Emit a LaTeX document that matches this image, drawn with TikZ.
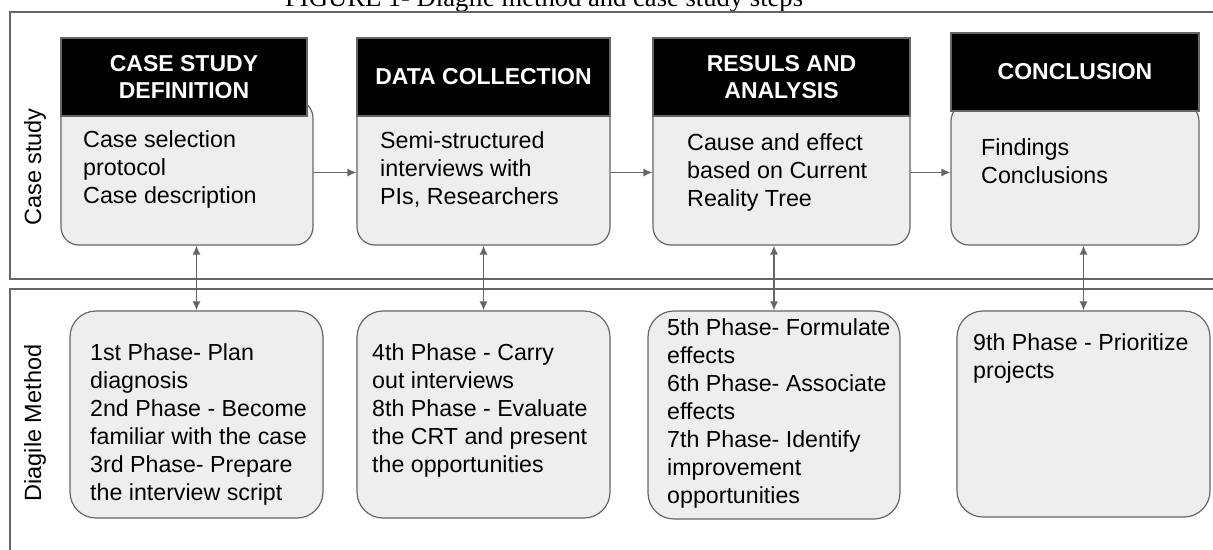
\documentclass[tikz,border=0pt]{standalone}
\usepackage{fontspec}
\setmainfont{Liberation Sans}
\newfontfamily\captionfont{Liberation Serif}
\usetikzlibrary{calc,arrows.meta}
\definecolor{framegray}{HTML}{666666}
\definecolor{boxfill}{HTML}{EEEEEE}
\tikzset{
  frameline/.style={draw=framegray, line width=1.4pt},
  lanelabel/.style={rotate=90, inner sep=0pt, font=\fontsize{23.5}{28}\selectfont},
  headbox/.style={draw=framegray, fill=black, line width=1.2pt, inner sep=0pt,
    text=white, align=center, font=\fontsize{23}{27}\selectfont\bfseries},
  bodybox/.style={draw=framegray, fill=boxfill, line width=1.2pt, inner sep=0pt,
    rounded corners=18pt},
  phasebox/.style={bodybox, rounded corners=26pt},
  %% multi-line texts are placed by the baseline of their last line
  boxtext/.style={anchor=base west, align=left, inner sep=0pt,
    font=\fontsize{23.3}{28}\selectfont},
  phasetext/.style={boxtext, font=\fontsize{23.2}{28}\selectfont},
  flow/.style={draw=framegray, line width=1.3pt, -{Latex[length=9pt,width=8pt]}},
  link/.style={flow, {Latex[length=9pt,width=8pt]}-{Latex[length=9pt,width=8pt]}},
}

\begin{document}
\begin{tikzpicture}[x=1pt,y=-1pt]
  \useasboundingbox (0,0) rectangle (1213,549);
  \clip (0,0) rectangle (1213,549);

  %% Caption, cut at the top of the page
  \node[anchor=base west, inner sep=0pt, font=\captionfont\fontsize{26.6}{30}\selectfont]
    (CAPTION) at (285,6) {FIGURE 1- Diaglie method and case study steps};

  %% The two lanes
  \draw[frameline] (1230,12) -- (10,12) -- (10,279) -- (1230,279);
  \draw[frameline] (1230,289) -- (10,289) -- (10,560);
  \node[lanelabel] (LANECS) at (35,167) {Case study};
  \node[lanelabel] (LANEDM) at (35,423) {Diagile Method};

  %% Case study steps: grey body first, black header on top
  \foreach \i/\x/\w/\y/\h in {1/187/252/172.5/145, 2/483.5/253/172.5/145,
                              3/781.5/257/172.5/145, 4/1075/248/174/142}
  {
    \node[bodybox, minimum width=\w pt, minimum height=\h pt] (CS\i) at (\x,\y) {};
  }
  \node[headbox, minimum width=246pt, minimum height=78pt] (HD1) at (184,77) {CASE STUDY\\DEFINITION};
  \node[headbox, minimum width=253pt, minimum height=78pt] (HD2) at (483.5,77) {DATA COLLECTION};
  \node[headbox, minimum width=257pt, minimum height=78pt] (HD3) at (781.5,77) {RESULS AND\\ANALYSIS};
  \node[headbox, minimum width=248pt, minimum height=78pt] (HD4) at (1075,72) {CONCLUSION};

  \node[boxtext] (CT1) at (83,203) {Case selection\\protocol\\Case description};
  \node[boxtext] (CT2) at (380,204) {Semi-structured\\interviews with\\PIs, Researchers};
  \node[boxtext] (CT3) at (687,206) {Cause and effect\\based on Current\\Reality Tree};
  \node[boxtext] (CT4) at (981,183) {Findings\\Conclusions};

  %% Diagile phases
  \foreach \i/\x/\y/\w/\h in {1/196.5/414.5/253/207, 2/483.5/414.5/253/207,
                              3/774/415/252/208, 4/1083.5/414/253/206}
  {
    \node[phasebox, minimum width=\w pt, minimum height=\h pt] (DM\i) at (\x,\y) {};
  }
  \node[phasetext] (DT1) at (90,500) {1st Phase- Plan\\diagnosis\\2nd Phase - Become\\familiar with the case\\3rd Phase- Prepare\\the interview script};
  \node[phasetext] (DT2) at (372,472) {4th Phase - Carry\\out interviews\\8th Phase - Evaluate\\the CRT and present\\the opportunities};
  \node[phasetext] (DT3) at (667,503) {5th Phase- Formulate\\effects\\6th Phase- Associate\\effects\\7th Phase- Identify\\improvement\\opportunities};
  \node[phasetext] (DT4) at (973,378) {9th Phase - Prioritize\\projects};

  %% Connectors
  \foreach \i/\j in {1/2, 2/3, 3/4}
    \draw[flow] (CS\i.east) -- (CS\i.east -| CS\j.west);
  \foreach \i in {1,...,4}
    \draw[link] (DM\i.north) -- (DM\i.north |- CS\i.south);

\end{tikzpicture}
\end{document}
